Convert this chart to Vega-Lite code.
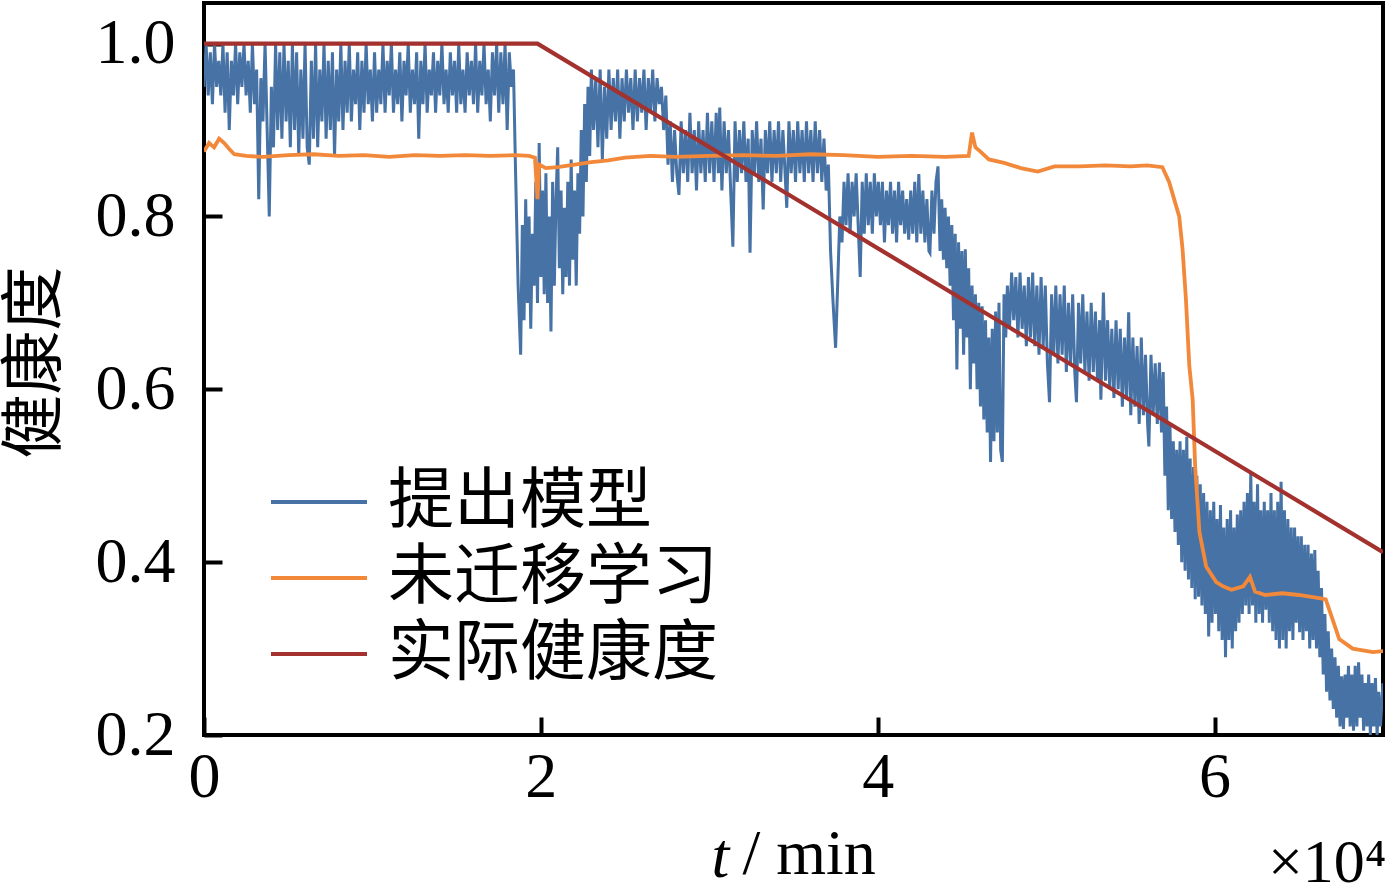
{
  "$schema": "https://vega.github.io/schema/vega-lite/v6.json",
  "width": 1179,
  "height": 732,
  "autosize": {"type": "none"},
  "padding": {"left": 204, "top": 3, "right": 5, "bottom": 150},
  "background": "white",
  "config": {
    "view": {"stroke": "black", "strokeWidth": 4},
    "axis": {"grid": false, "domain": false, "zindex": 1}
  },
  "datasets": {
    "blue": [
      {"t":0,"v":0.95},{"t":125,"v":1.0},{"t":250,"v":0.94},{"t":375,"v":0.99},{"t":500,"v":0.93},{"t":625,"v":1.0},{"t":750,"v":0.95},{"t":875,"v":0.98},{"t":1000,"v":0.94},{"t":1125,"v":1.0},{"t":1250,"v":0.92},{"t":1375,"v":0.99},{"t":1500,"v":0.90},{"t":1625,"v":0.98},{"t":1750,"v":0.94},{"t":1875,"v":1.0},{"t":2000,"v":0.93},{"t":2125,"v":0.99},{"t":2250,"v":0.95},{"t":2375,"v":1.0},{"t":2500,"v":0.94},{"t":2625,"v":0.98},{"t":2750,"v":0.92},{"t":2875,"v":1.0},{"t":3000,"v":0.93},{"t":3125,"v":0.97},{"t":3250,"v":0.82},{"t":3375,"v":0.96},{"t":3500,"v":0.91},{"t":3625,"v":1.0},{"t":3750,"v":0.90},{"t":3875,"v":0.80},{"t":4000,"v":0.95},{"t":4125,"v":0.88},{"t":4250,"v":1.0},{"t":4375,"v":0.90},{"t":4500,"v":0.99},{"t":4625,"v":0.89},{"t":4750,"v":1.0},{"t":4875,"v":0.91},{"t":5000,"v":0.98},{"t":5125,"v":0.88},{"t":5250,"v":1.0},{"t":5375,"v":0.90},{"t":5500,"v":0.99},{"t":5625,"v":0.87},{"t":5750,"v":0.97},{"t":5875,"v":0.89},{"t":6000,"v":1.0},{"t":6125,"v":0.88},{"t":6250,"v":0.86},{"t":6375,"v":0.98},{"t":6500,"v":0.89},{"t":6625,"v":1.0},{"t":6750,"v":0.88},{"t":6875,"v":0.97},{"t":7000,"v":0.91},{"t":7125,"v":1.0},{"t":7250,"v":0.89},{"t":7375,"v":0.98},{"t":7500,"v":0.90},{"t":7625,"v":0.99},{"t":7750,"v":0.87},{"t":7875,"v":0.97},{"t":8000,"v":0.91},{"t":8125,"v":1.0},{"t":8250,"v":0.90},{"t":8375,"v":0.98},{"t":8500,"v":0.92},{"t":8625,"v":1.0},{"t":8750,"v":0.91},{"t":8875,"v":0.97},{"t":9000,"v":0.93},{"t":9125,"v":0.99},{"t":9250,"v":0.90},{"t":9375,"v":0.98},{"t":9500,"v":0.92},{"t":9625,"v":1.0},{"t":9750,"v":0.93},{"t":9875,"v":0.97},{"t":10000,"v":0.91},{"t":10125,"v":0.99},{"t":10250,"v":0.92},{"t":10375,"v":0.97},{"t":10500,"v":0.93},{"t":10625,"v":1.0},{"t":10750,"v":0.92},{"t":10875,"v":0.98},{"t":11000,"v":0.94},{"t":11125,"v":1.0},{"t":11250,"v":0.92},{"t":11375,"v":0.97},{"t":11500,"v":0.93},{"t":11625,"v":0.99},{"t":11750,"v":0.91},{"t":11875,"v":0.98},{"t":12000,"v":0.94},{"t":12125,"v":1.0},{"t":12250,"v":0.92},{"t":12375,"v":0.97},{"t":12500,"v":0.93},{"t":12625,"v":0.99},{"t":12750,"v":0.89},{"t":12875,"v":0.98},{"t":13000,"v":0.93},{"t":13125,"v":1.0},{"t":13250,"v":0.92},{"t":13375,"v":0.97},{"t":13500,"v":0.94},{"t":13625,"v":0.99},{"t":13750,"v":0.92},{"t":13875,"v":0.98},{"t":14000,"v":0.94},{"t":14125,"v":1.0},{"t":14250,"v":0.93},{"t":14375,"v":0.97},{"t":14500,"v":0.92},{"t":14625,"v":0.99},{"t":14750,"v":0.94},{"t":14875,"v":0.98},{"t":15000,"v":0.92},{"t":15125,"v":1.0},{"t":15250,"v":0.93},{"t":15375,"v":0.97},{"t":15500,"v":0.92},{"t":15625,"v":0.99},{"t":15750,"v":0.94},{"t":15875,"v":0.98},{"t":16000,"v":0.93},{"t":16125,"v":1.0},{"t":16250,"v":0.92},{"t":16375,"v":0.98},{"t":16500,"v":0.94},{"t":16625,"v":1.0},{"t":16750,"v":0.93},{"t":16875,"v":0.97},{"t":17000,"v":0.91},{"t":17125,"v":0.99},{"t":17250,"v":0.94},{"t":17375,"v":1.0},{"t":17500,"v":0.92},{"t":17625,"v":0.99},{"t":17750,"v":0.93},{"t":17875,"v":1.0},{"t":18000,"v":0.90},{"t":18125,"v":0.99},{"t":18250,"v":0.95},{"t":18375,"v":0.97},{"t":18500,"v":0.85},{"t":18650,"v":0.72},
      {"t":18800,"v":0.64},{"t":18900,"v":0.79},{"t":19000,"v":0.68},{"t":19100,"v":0.82},{"t":19200,"v":0.70},{"t":19300,"v":0.80},{"t":19400,"v":0.67},{"t":19500,"v":0.78},{"t":19600,"v":0.72},{"t":19700,"v":0.84},{"t":19800,"v":0.70},{"t":19900,"v":0.885},{"t":20000,"v":0.73},{"t":20100,"v":0.83},{"t":20200,"v":0.71},{"t":20300,"v":0.85},{"t":20400,"v":0.70},{"t":20500,"v":0.80},{"t":20600,"v":0.667},{"t":20700,"v":0.84},{"t":20800,"v":0.72},{"t":20900,"v":0.82},{"t":21000,"v":0.88},{"t":21100,"v":0.74},{"t":21200,"v":0.83},{"t":21300,"v":0.71},{"t":21400,"v":0.81},{"t":21500,"v":0.73},{"t":21600,"v":0.84},{"t":21700,"v":0.72},{"t":21800,"v":0.866},{"t":21900,"v":0.75},{"t":22000,"v":0.83},{"t":22100,"v":0.72},{"t":22200,"v":0.85},{"t":22300,"v":0.78},{"t":22400,"v":0.90},{"t":22500,"v":0.80},{"t":22600,"v":0.93},{"t":22700,"v":0.84},{"t":22800,"v":0.95},{"t":22900,"v":0.87},{"t":23000,"v":0.97},
      {"t":23130,"v":0.90},{"t":23260,"v":0.96},{"t":23390,"v":0.88},{"t":23520,"v":0.97},{"t":23650,"v":0.866},{"t":23780,"v":0.95},{"t":23910,"v":0.89},{"t":24040,"v":0.97},{"t":24170,"v":0.90},{"t":24300,"v":0.96},{"t":24430,"v":0.91},{"t":24560,"v":0.97},{"t":24690,"v":0.89},{"t":24820,"v":0.96},{"t":24950,"v":0.91},{"t":25080,"v":0.97},{"t":25210,"v":0.92},{"t":25340,"v":0.96},{"t":25470,"v":0.90},{"t":25600,"v":0.97},{"t":25730,"v":0.91},{"t":25860,"v":0.96},{"t":25990,"v":0.92},{"t":26120,"v":0.97},{"t":26250,"v":0.90},{"t":26380,"v":0.96},{"t":26510,"v":0.92},{"t":26640,"v":0.97},{"t":26770,"v":0.91},{"t":26900,"v":0.96},{"t":27030,"v":0.93},{"t":27160,"v":0.95},{"t":27290,"v":0.90},{"t":27420,"v":0.94},{"t":27550,"v":0.86},
      {"t":27680,"v":0.91},{"t":27810,"v":0.84},{"t":27940,"v":0.90},{"t":28070,"v":0.85},{"t":28200,"v":0.825},{"t":28330,"v":0.91},{"t":28460,"v":0.85},{"t":28590,"v":0.90},{"t":28720,"v":0.84},{"t":28850,"v":0.92},{"t":28980,"v":0.85},{"t":29110,"v":0.90},{"t":29240,"v":0.83},{"t":29370,"v":0.91},{"t":29500,"v":0.85},{"t":29630,"v":0.90},{"t":29760,"v":0.84},{"t":29890,"v":0.92},{"t":30020,"v":0.85},{"t":30150,"v":0.91},{"t":30280,"v":0.84},{"t":30410,"v":0.92},{"t":30540,"v":0.85},{"t":30620,"v":0.926},{"t":30750,"v":0.83},{"t":30880,"v":0.91},{"t":31010,"v":0.85},{"t":31140,"v":0.90},{"t":31270,"v":0.83},{"t":31400,"v":0.765},{"t":31530,"v":0.91},{"t":31660,"v":0.84},{"t":31790,"v":0.90},{"t":31920,"v":0.85},{"t":32050,"v":0.91},{"t":32180,"v":0.84},{"t":32310,"v":0.89},{"t":32420,"v":0.758},{"t":32550,"v":0.90},{"t":32680,"v":0.85},{"t":32810,"v":0.91},{"t":32940,"v":0.84},{"t":33070,"v":0.89},{"t":33200,"v":0.808},{"t":33330,"v":0.90},{"t":33460,"v":0.85},{"t":33590,"v":0.91},{"t":33720,"v":0.84},{"t":33850,"v":0.90},{"t":33980,"v":0.85},{"t":34110,"v":0.91},{"t":34240,"v":0.84},{"t":34370,"v":0.90},{"t":34500,"v":0.85},{"t":34600,"v":0.81},{"t":34730,"v":0.91},{"t":34860,"v":0.85},{"t":34990,"v":0.90},{"t":35120,"v":0.84},{"t":35250,"v":0.91},{"t":35380,"v":0.85},{"t":35510,"v":0.90},{"t":35640,"v":0.84},{"t":35770,"v":0.91},{"t":35900,"v":0.85},{"t":36030,"v":0.90},{"t":36160,"v":0.84},{"t":36290,"v":0.91},{"t":36420,"v":0.85},{"t":36550,"v":0.90},{"t":36680,"v":0.84},{"t":36810,"v":0.89},{"t":36940,"v":0.83},{"t":37070,"v":0.86},{"t":37200,"v":0.76},{"t":37350,"v":0.70},{"t":37500,"v":0.648},{"t":37620,"v":0.72},{"t":37750,"v":0.80},
      {"t":37880,"v":0.77},{"t":38000,"v":0.84},{"t":38120,"v":0.79},{"t":38240,"v":0.85},{"t":38360,"v":0.78},{"t":38480,"v":0.84},{"t":38600,"v":0.80},{"t":38720,"v":0.85},{"t":38840,"v":0.79},{"t":38960,"v":0.73},{"t":39080,"v":0.84},{"t":39200,"v":0.78},{"t":39320,"v":0.85},{"t":39440,"v":0.79},{"t":39560,"v":0.84},{"t":39680,"v":0.78},{"t":39800,"v":0.85},{"t":39920,"v":0.80},{"t":40040,"v":0.84},{"t":40160,"v":0.79},{"t":40280,"v":0.84},{"t":40400,"v":0.77},{"t":40520,"v":0.83},{"t":40640,"v":0.79},{"t":40760,"v":0.84},{"t":40880,"v":0.78},{"t":41000,"v":0.83},{"t":41120,"v":0.77},{"t":41240,"v":0.84},{"t":41360,"v":0.79},{"t":41480,"v":0.83},{"t":41600,"v":0.78},{"t":41720,"v":0.82},{"t":41840,"v":0.773},{"t":41960,"v":0.83},{"t":42080,"v":0.78},{"t":42200,"v":0.84},{"t":42320,"v":0.77},{"t":42440,"v":0.849},{"t":42560,"v":0.78},{"t":42680,"v":0.83},{"t":42800,"v":0.77},{"t":42920,"v":0.82},{"t":43040,"v":0.76},{"t":43100,"v":0.758},{"t":43220,"v":0.83},{"t":43340,"v":0.78},{"t":43460,"v":0.84},{"t":43580,"v":0.858},
      {"t":43700,"v":0.76},{"t":43800,"v":0.82},{"t":43900,"v":0.75},{"t":44000,"v":0.81},{"t":44100,"v":0.74},{"t":44200,"v":0.80},{"t":44300,"v":0.72},{"t":44400,"v":0.79},{"t":44500,"v":0.68},{"t":44600,"v":0.78},{"t":44700,"v":0.623},{"t":44800,"v":0.77},{"t":44900,"v":0.67},{"t":45000,"v":0.76},{"t":45100,"v":0.64},{"t":45200,"v":0.762},{"t":45300,"v":0.66},{"t":45400,"v":0.74},{"t":45500,"v":0.60},{"t":45600,"v":0.72},{"t":45700,"v":0.63},{"t":45800,"v":0.71},{"t":45900,"v":0.60},{"t":46000,"v":0.70},{"t":46100,"v":0.58},{"t":46200,"v":0.696},{"t":46300,"v":0.565},{"t":46400,"v":0.68},{"t":46500,"v":0.55},{"t":46600,"v":0.66},{"t":46700,"v":0.516},{"t":46800,"v":0.67},{"t":46900,"v":0.54},{"t":47000,"v":0.69},{"t":47100,"v":0.55},{"t":47200,"v":0.70},{"t":47300,"v":0.53},{"t":47400,"v":0.516},{"t":47500,"v":0.71},{"t":47600,"v":0.66},
      {"t":47700,"v":0.72},{"t":47825,"v":0.67},{"t":47950,"v":0.735},{"t":48075,"v":0.68},{"t":48200,"v":0.73},{"t":48325,"v":0.66},{"t":48450,"v":0.735},{"t":48575,"v":0.67},{"t":48700,"v":0.72},{"t":48825,"v":0.65},{"t":48950,"v":0.73},{"t":49075,"v":0.66},{"t":49200,"v":0.735},{"t":49325,"v":0.65},{"t":49450,"v":0.72},{"t":49575,"v":0.64},{"t":49700,"v":0.73},{"t":49825,"v":0.65},{"t":49950,"v":0.72},{"t":50075,"v":0.63},{"t":50200,"v":0.585},{"t":50325,"v":0.71},{"t":50450,"v":0.64},{"t":50575,"v":0.72},{"t":50700,"v":0.63},{"t":50825,"v":0.71},{"t":50950,"v":0.64},{"t":51075,"v":0.72},{"t":51200,"v":0.62},{"t":51325,"v":0.70},{"t":51450,"v":0.63},{"t":51575,"v":0.71},{"t":51700,"v":0.62},{"t":51800,"v":0.585},{"t":51925,"v":0.70},{"t":52050,"v":0.63},{"t":52175,"v":0.71},{"t":52300,"v":0.62},{"t":52425,"v":0.69},{"t":52550,"v":0.61},{"t":52675,"v":0.70},{"t":52800,"v":0.62},{"t":52925,"v":0.69},{"t":53050,"v":0.61},{"t":53175,"v":0.68},{"t":53250,"v":0.588},{"t":53400,"v":0.712},{"t":53525,"v":0.61},{"t":53650,"v":0.68},{"t":53775,"v":0.60},{"t":53900,"v":0.67},{"t":54025,"v":0.59},{"t":54150,"v":0.68},{"t":54275,"v":0.60},{"t":54400,"v":0.67},{"t":54525,"v":0.58},{"t":54650,"v":0.66},{"t":54775,"v":0.59},{"t":54900,"v":0.689},{"t":55025,"v":0.57},{"t":55150,"v":0.66},{"t":55275,"v":0.58},{"t":55400,"v":0.65},{"t":55525,"v":0.56},{"t":55650,"v":0.66},{"t":55775,"v":0.57},{"t":55900,"v":0.64},{"t":56025,"v":0.56},{"t":56100,"v":0.534},{"t":56225,"v":0.64},{"t":56350,"v":0.57},{"t":56475,"v":0.63},{"t":56600,"v":0.56},{"t":56725,"v":0.631},{"t":56850,"v":0.55},
      {"t":56950,"v":0.62},{"t":57050,"v":0.50},{"t":57150,"v":0.58},{"t":57250,"v":0.46},{"t":57350,"v":0.56},{"t":57450,"v":0.45},{"t":57550,"v":0.54},{"t":57650,"v":0.435},{"t":57750,"v":0.53},{"t":57850,"v":0.42},{"t":57950,"v":0.54},{"t":58050,"v":0.40},{"t":58150,"v":0.53},{"t":58250,"v":0.39},{"t":58350,"v":0.545},{"t":58450,"v":0.38},{"t":58550,"v":0.52},{"t":58650,"v":0.37},{"t":58750,"v":0.51},{"t":58850,"v":0.357},{"t":58950,"v":0.50},{"t":59050,"v":0.36},{"t":59150,"v":0.49},
      {"t":59250,"v":0.35},{"t":59350,"v":0.48},{"t":59450,"v":0.34},{"t":59550,"v":0.47},{"t":59650,"v":0.314},{"t":59750,"v":0.46},{"t":59850,"v":0.33},{"t":59950,"v":0.47},{"t":60050,"v":0.34},{"t":60150,"v":0.45},{"t":60250,"v":0.32},{"t":60350,"v":0.466},{"t":60450,"v":0.31},{"t":60550,"v":0.44},{"t":60650,"v":0.29},{"t":60750,"v":0.45},{"t":60850,"v":0.31},{"t":60950,"v":0.46},{"t":61050,"v":0.30},{"t":61150,"v":0.44},{"t":61250,"v":0.32},{"t":61350,"v":0.455},{"t":61450,"v":0.33},{"t":61550,"v":0.46},{"t":61650,"v":0.34},{"t":61750,"v":0.47},{"t":61850,"v":0.35},{"t":61950,"v":0.48},{"t":62050,"v":0.34},{"t":62150,"v":0.504},{"t":62250,"v":0.35},{"t":62350,"v":0.47},{"t":62450,"v":0.33},{"t":62550,"v":0.49},{"t":62650,"v":0.34},{"t":62750,"v":0.46},{"t":62850,"v":0.33},{"t":62950,"v":0.47},{"t":63050,"v":0.345},{"t":63150,"v":0.46},{"t":63250,"v":0.33},{"t":63350,"v":0.48},{"t":63450,"v":0.32},{"t":63550,"v":0.46},{"t":63650,"v":0.31},{"t":63750,"v":0.47},{"t":63850,"v":0.30},{"t":63950,"v":0.493},{"t":64050,"v":0.31},{"t":64150,"v":0.46},{"t":64250,"v":0.30},{"t":64350,"v":0.45},{"t":64450,"v":0.32},{"t":64550,"v":0.44},{"t":64650,"v":0.31},
      {"t":64750,"v":0.44},{"t":64850,"v":0.33},{"t":64950,"v":0.43},{"t":65050,"v":0.319},{"t":65150,"v":0.43},{"t":65250,"v":0.31},{"t":65350,"v":0.42},{"t":65450,"v":0.32},{"t":65550,"v":0.42},{"t":65650,"v":0.30},{"t":65750,"v":0.41},{"t":65850,"v":0.31},{"t":65950,"v":0.414},{"t":66050,"v":0.30},{"t":66150,"v":0.39},{"t":66250,"v":0.29},{"t":66350,"v":0.37},{"t":66450,"v":0.27},{"t":66550,"v":0.34},{"t":66650,"v":0.25},{"t":66750,"v":0.32},{"t":66850,"v":0.24},{"t":66950,"v":0.30},{"t":67050,"v":0.23},{"t":67150,"v":0.29},{"t":67250,"v":0.22},{"t":67350,"v":0.28},{"t":67450,"v":0.21},{"t":67550,"v":0.268},{"t":67650,"v":0.207},{"t":67750,"v":0.27},{"t":67850,"v":0.22},{"t":67950,"v":0.28},{"t":68050,"v":0.21},{"t":68150,"v":0.27},{"t":68250,"v":0.205},{"t":68350,"v":0.28},{"t":68450,"v":0.21},{"t":68550,"v":0.284},{"t":68650,"v":0.22},{"t":68750,"v":0.27},{"t":68850,"v":0.205},{"t":68950,"v":0.26},{"t":69050,"v":0.21},{"t":69150,"v":0.27},{"t":69250,"v":0.20},{"t":69350,"v":0.26},{"t":69450,"v":0.21},{"t":69550,"v":0.266},{"t":69650,"v":0.20},{"t":69750,"v":0.25},{"t":69850,"v":0.21},{"t":70000,"v":0.26}
    ],
    "orange": [
      {"t":0,"v":0.875},{"t":300,"v":0.885},{"t":600,"v":0.88},{"t":900,"v":0.89},{"t":1200,"v":0.885},{"t":1500,"v":0.878},{"t":1800,"v":0.872},{"t":2500,"v":0.870},{"t":3500,"v":0.869},{"t":5000,"v":0.871},{"t":6500,"v":0.872},{"t":8000,"v":0.870},{"t":9500,"v":0.871},{"t":11000,"v":0.869},{"t":12500,"v":0.871},{"t":14000,"v":0.870},{"t":15500,"v":0.871},{"t":17000,"v":0.870},{"t":18500,"v":0.871},{"t":19300,"v":0.870},{"t":19650,"v":0.868},{"t":19800,"v":0.82},{"t":19900,"v":0.86},{"t":20300,"v":0.856},{"t":21000,"v":0.857},{"t":22000,"v":0.860},{"t":23000,"v":0.863},{"t":24000,"v":0.865},{"t":25000,"v":0.868},{"t":26500,"v":0.870},{"t":28000,"v":0.869},{"t":30000,"v":0.870},{"t":32000,"v":0.871},{"t":34000,"v":0.870},{"t":36000,"v":0.872},{"t":38000,"v":0.871},{"t":40000,"v":0.869},{"t":42000,"v":0.870},{"t":44000,"v":0.869},{"t":45400,"v":0.870},{"t":45600,"v":0.897},{"t":45800,"v":0.880},{"t":46100,"v":0.875},{"t":46600,"v":0.866},{"t":47500,"v":0.862},{"t":48500,"v":0.856},{"t":49500,"v":0.852},{"t":50500,"v":0.858},{"t":52000,"v":0.858},{"t":53500,"v":0.859},{"t":55000,"v":0.858},{"t":56000,"v":0.859},{"t":56900,"v":0.857},{"t":57300,"v":0.84},{"t":57900,"v":0.80},{"t":58100,"v":0.762},{"t":58300,"v":0.704},{"t":58500,"v":0.627},{"t":58700,"v":0.588},{"t":58850,"v":0.51},{"t":58950,"v":0.48},{"t":59100,"v":0.435},{"t":59500,"v":0.395},{"t":60100,"v":0.377},{"t":60500,"v":0.372},{"t":61000,"v":0.368},{"t":61700,"v":0.372},{"t":62100,"v":0.383},{"t":62400,"v":0.366},{"t":63000,"v":0.362},{"t":64000,"v":0.364},{"t":65000,"v":0.362},{"t":66300,"v":0.358},{"t":66600,"v":0.357},{"t":67000,"v":0.334},{"t":67400,"v":0.311},{"t":68200,"v":0.300},{"t":69400,"v":0.296},{"t":70000,"v":0.297}
    ],
    "red": [
      {"t":0,"v":1.0},{"t":19800,"v":1.0},{"t":70000,"v":0.4116}
    ]
  },
  "resolve": {"axis": {"x": "independent", "y": "independent"}},
  "encoding": {
    "x": {"field": "t", "type": "quantitative", "scale": {"domain": [0, 70000], "nice": false, "zero": false}},
    "y": {"field": "v", "type": "quantitative", "scale": {"domain": [0.2, 1.047], "nice": false, "zero": false}}
  },
  "layer": [
    {
      "data": {"name": "blue"},
      "mark": {"type": "line", "strokeWidth": 3, "clip": true},
      "encoding": {
        "x": {"field": "t", "type": "quantitative", "axis": null},
        "y": {"field": "v", "type": "quantitative", "axis": {"orient": "right", "labels": false, "ticks": false, "title": "×10⁴", "titleAngle": 0, "titleAlign": "right", "titleBaseline": "alphabetic", "titleX": 3, "titleY": 878, "titleFont": "Liberation Serif", "titleFontSize": 62, "titleFontWeight": "normal", "titleColor": "black"}},
        "color": {"datum": "提出模型", "type": "nominal",
          "scale": {"domain": ["提出模型", "未迁移学习", "实际健康度"], "range": ["#4672A5", "#F2883A", "#A3312E"]},
          "legend": {"orient": "none", "legendX": 82, "legendY": 466, "title": null, "padding": 0, "symbolType": "M-2,0H2", "symbolSize": 2304, "symbolStrokeWidth": 4, "labelFont": "Noto Sans CJK SC", "labelFontSize": 66, "labelColor": "black", "labelOffset": 36, "rowPadding": 10, "labelLimit": 600}}
      }
    },
    {
      "data": {"name": "orange"},
      "mark": {"type": "line", "strokeWidth": 3.8, "clip": true},
      "encoding": {
        "x": {"field": "t", "type": "quantitative", "axis": {"orient": "top", "labels": false, "ticks": false, "title": "t", "titleFont": "Liberation Serif", "titleFontStyle": "italic", "titleFontWeight": "normal", "titleFontSize": 64, "titleColor": "black", "titleAlign": "left", "titleBaseline": "alphabetic", "titleX": 507, "titleY": 873}},
        "y": {"field": "v", "type": "quantitative", "axis": null},
        "color": {"datum": "未迁移学习", "type": "nominal"}
      }
    },
    {
      "data": {"name": "red"},
      "mark": {"type": "line", "strokeWidth": 4.2, "clip": true},
      "encoding": {
        "x": {"field": "t", "type": "quantitative", "axis": {"orient": "bottom", "values": [0, 20000, 40000, 60000], "labelExpr": "format(datum.value / 10000, 'd')", "labelFlush": false, "tickSize": -18, "tickWidth": 4, "tickColor": "black", "labelPadding": 28, "labelFont": "Liberation Serif", "labelFontSize": 64, "labelColor": "black", "labelBaseline": "top", "title": "/ min", "titleFont": "Liberation Serif", "titleFontWeight": "normal", "titleFontSize": 64, "titleColor": "black", "titleAlign": "left", "titleBaseline": "alphabetic", "titleX": 538, "titleY": 138}},
        "y": {"field": "v", "type": "quantitative", "axis": {"orient": "left", "values": [0.2, 0.4, 0.6, 0.8, 1.0], "format": ".1f", "tickSize": -18, "tickWidth": 4, "tickColor": "black", "labelPadding": 47, "labelFont": "Liberation Serif", "labelFontSize": 64, "labelColor": "black", "title": "健康度", "titleFont": "Noto Sans CJK SC", "titleFontWeight": "normal", "titleFontSize": 64, "titleColor": "black", "titleAngle": -90, "titleAlign": "center", "titleBaseline": "middle", "titleX": -169, "titleY": 359}},
        "color": {"datum": "实际健康度", "type": "nominal"}
      }
    }
  ]
}
